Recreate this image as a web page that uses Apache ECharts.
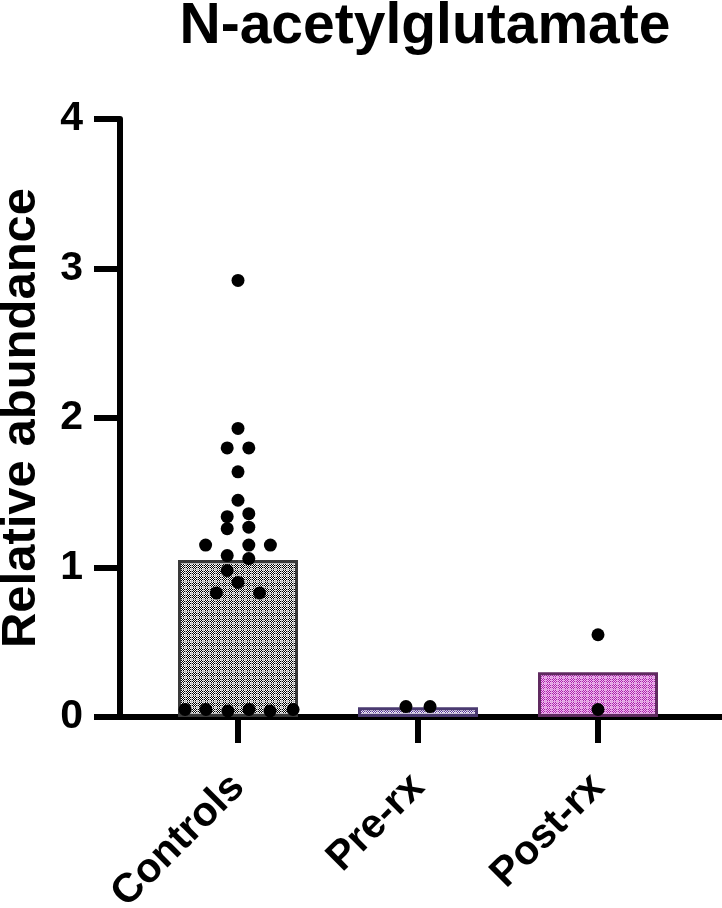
<!DOCTYPE html>
<html>
<head>
<meta charset="utf-8">
<script src="https://cdn.jsdelivr.net/npm/echarts@6/dist/echarts.min.js"></script>
<style>
html,body{margin:0;padding:0;background:#fff;}
#chart{width:722px;height:908px;}
</style>
</head>
<body>
<div id="chart"></div>
<script>
// ---- data ----
const titleText = 'N-acetylglutamate';
const yAxisTitle = 'Relative abundance';
const categories = ['Controls', 'Pre-rx', 'Post-rx'];
const barMeans = [1.05, 0.065, 0.30];
const yTicks = [0, 1, 2, 3, 4];

// individual points: category index, horizontal jitter (category units), value
const controlsJitter = [0, 0, -0.06, 0.06, 0, 0, -0.06, 0.06, -0.06, 0.06, -0.18, 0.06, 0.18, -0.06, 0.06, -0.06, 0, -0.12, 0.12, -0.294, -0.178, -0.056, 0.061, 0.178, 0.306];
const controlsValues = [2.92, 1.93, 1.80, 1.80, 1.64, 1.45, 1.34, 1.36, 1.26, 1.27, 1.15, 1.15, 1.15, 1.08, 1.06, 0.98, 0.90, 0.83, 0.83, 0.05, 0.05, 0.04, 0.05, 0.04, 0.05];
const preJitter = [-0.067, 0.067];
const preValues = [0.07, 0.07];
const postJitter = [0, 0];
const postValues = [0.55, 0.05];

// ---- styles ----
const FONT = "'Liberation Sans', Arial, Helvetica, sans-serif";
function makePattern(c1, c2, lineColor) {
  const cv = document.createElement('canvas');
  cv.width = 6; cv.height = 6;
  const ctx = cv.getContext('2d');
  for (let i = 0; i < 6; i++) {
    for (let j = 0; j < 6; j++) {
      ctx.fillStyle = (i === 5 || j === 5) ? lineColor : ((i + j) % 2 ? c1 : c2);
      ctx.fillRect(i, j, 1, 1);
    }
  }
  return { image: cv, repeat: 'repeat' };
}
const barStyles = [
  { color: makePattern('#000000', '#ffffff', '#b8b8b8'), borderColor: '#3a3a3a' },
  { color: makePattern('#5a3a9a', '#f4f2f8', '#c8c0d8'), borderColor: '#4a3a70' },
  { color: makePattern('#a828a8', '#f4b8f4', '#e0a0e0'), borderColor: '#602a60' }
];

function jitterPoints(idx, jit, vals) {
  return vals.map((v, k) => [idx + jit[k], v]);
}

const chart = echarts.init(document.getElementById('chart'), null, { renderer: 'canvas' });

const option = {
  animation: false,
  backgroundColor: '#ffffff',
  title: {
    text: titleText,
    left: 420,
    top: -6,
    textAlign: 'center',
    textStyle: { fontFamily: FONT, fontWeight: 'bold', fontSize: 57, color: '#000' }
  },
  grid: [
    { left: 120, right: 0, top: 119, bottom: 191, containLabel: false, outerBoundsMode: 'none' },
    { left: 148, right: 34, top: 119, bottom: 191, containLabel: false, outerBoundsMode: 'none' }
  ],
  xAxis: [
    { // frame x-axis line
      type: 'value', gridIndex: 0, min: 0, max: 1,
      axisLine: { show: true, lineStyle: { color: '#000', width: 6 } },
      axisTick: { show: false }, axisLabel: { show: false }, splitLine: { show: false }
    },
    { // category axis
      type: 'category', gridIndex: 1, data: categories,
      axisLine: { show: false },
      axisTick: { show: true, alignWithLabel: true, length: 26, lineStyle: { color: '#000', width: 6 } },
      axisLabel: { rotate: 45, margin: 64, fontFamily: FONT, fontWeight: 'bold', fontSize: 41, color: '#000', interval: 0 },
      splitLine: { show: false }
    },
    { // value overlay for jittered points
      type: 'value', gridIndex: 1, min: -0.5, max: 2.5, position: 'top', show: false
    }
  ],
  yAxis: [
    {
      type: 'value', gridIndex: 0, min: 0, max: 4, interval: 1,
      name: yAxisTitle, nameLocation: 'middle', nameRotate: 90, nameGap: 74,
      nameTextStyle: { fontFamily: FONT, fontWeight: 'bold', fontSize: 49, color: '#000' },
      axisLine: { show: true, lineStyle: { color: '#000', width: 6 } },
      axisTick: { show: true, length: 26, lineStyle: { color: '#000', width: 6 } },
      axisLabel: { margin: 37, fontFamily: FONT, fontWeight: 'bold', fontSize: 41, color: '#000',
        formatter: v => (yTicks.indexOf(v) >= 0 ? String(v) : '') },
      splitLine: { show: false }
    },
    { type: 'value', gridIndex: 1, min: 0, max: 4, interval: 1, show: false }
  ],
  series: [
    {
      type: 'bar', xAxisIndex: 1, yAxisIndex: 1, barWidth: 120, z: 2,
      data: barMeans.map((v, i) => ({ value: v, itemStyle: Object.assign({ borderWidth: 3 }, barStyles[i]) }))
    },
    {
      type: 'scatter', xAxisIndex: 2, yAxisIndex: 1, symbol: 'circle', symbolSize: 13, z: 5,
      itemStyle: { color: '#000', opacity: 1 },
      data: [].concat(
        jitterPoints(0, controlsJitter, controlsValues),
        jitterPoints(1, preJitter, preValues),
        jitterPoints(2, postJitter, postValues)
      )
    }
  ]
};
chart.setOption(option);
</script>
</body>
</html>
